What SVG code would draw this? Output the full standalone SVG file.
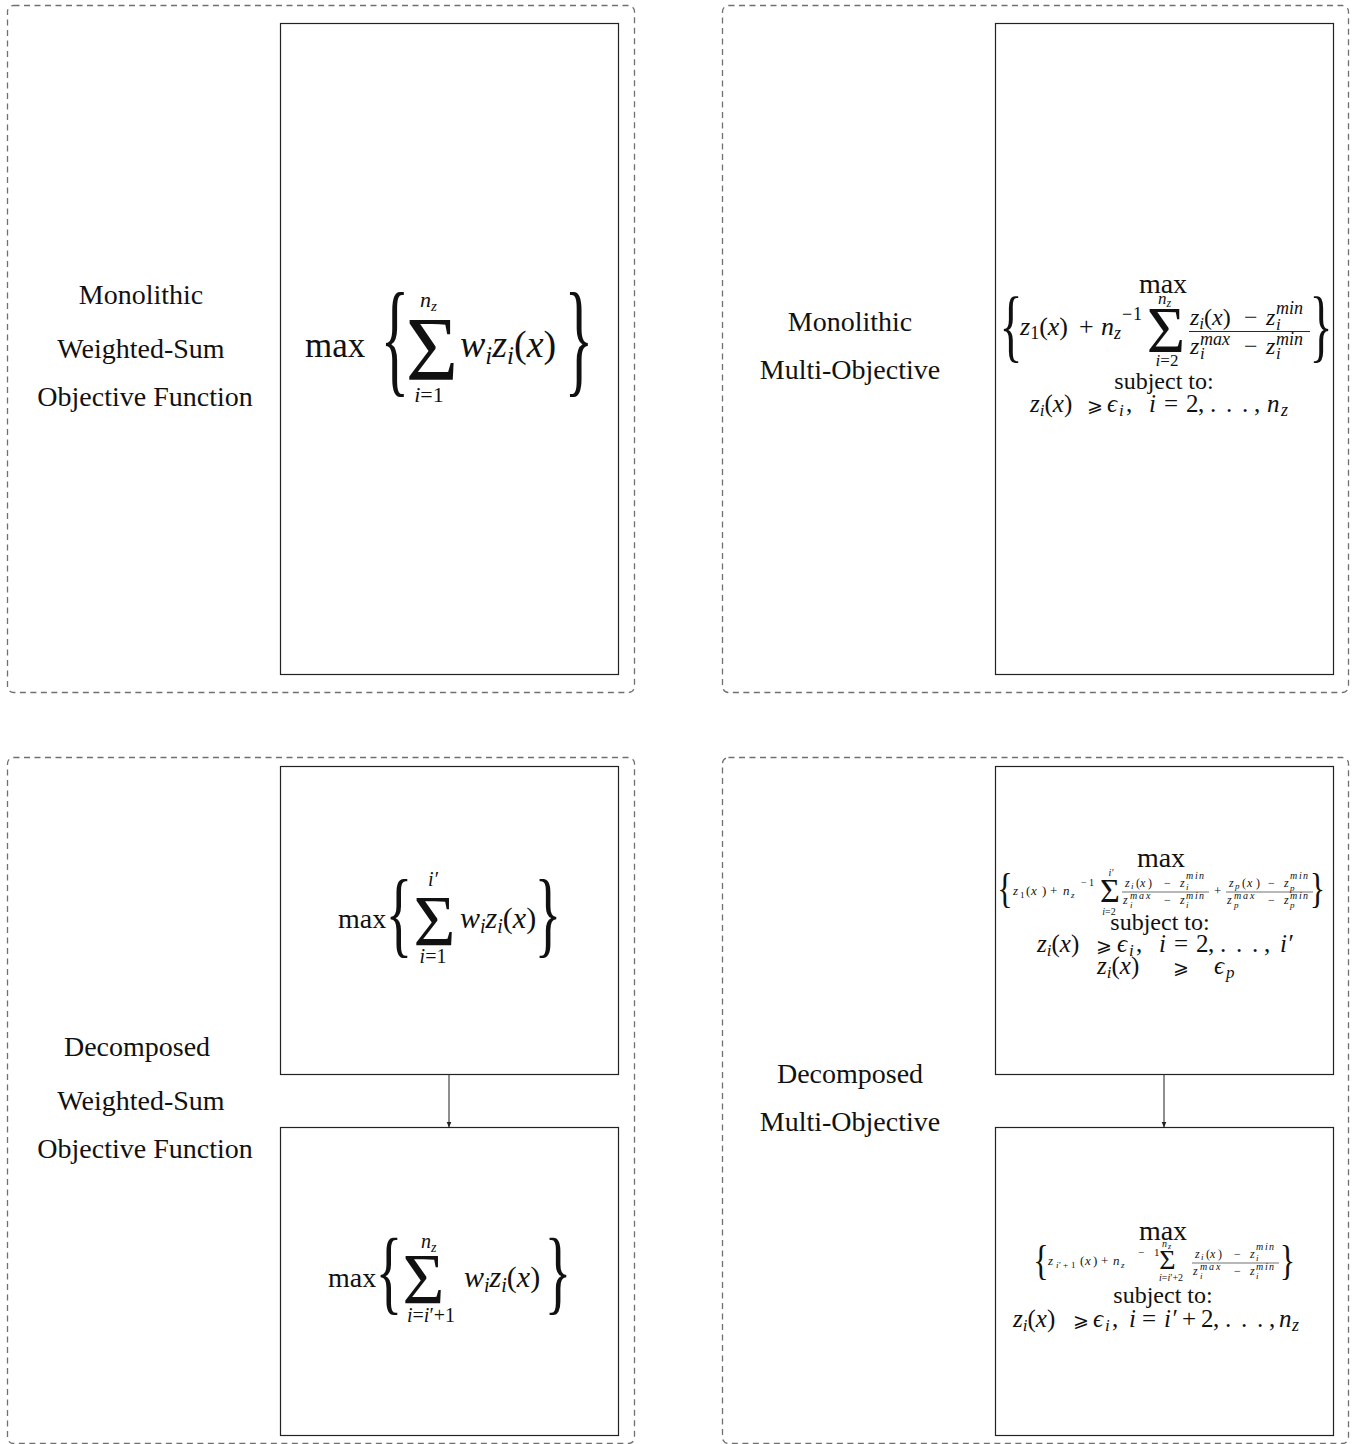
<svg xmlns="http://www.w3.org/2000/svg" width="1354" height="1444" viewBox="0 0 1354 1444">
<defs>
<style>
.outer{fill:none;stroke:#707070;stroke-width:1.3;stroke-dasharray:6,4.5}
.box{fill:#fff;stroke:#222;stroke-width:1.2}
text{font-family:"Liberation Serif","DejaVu Serif",serif;fill:#111}
.lbl{font-size:28px;text-anchor:middle}
.i{font-style:italic}
.c{text-anchor:middle}
.br{font-size:40px;text-anchor:middle}
.s{font-family:"DejaVu Sans",sans-serif}
.bar{stroke:#111;stroke-width:0.9}
.bar2{stroke:#111;stroke-width:0.6}
.edge{stroke:#333;stroke-width:1.1;fill:none}
</style>
<marker id="ah" markerWidth="6" markerHeight="6" refX="5.5" refY="3" orient="auto" markerUnits="userSpaceOnUse">
<path d="M0,0.5 L6,3 L0,5.5 z" fill="#222"/>
</marker>
</defs>
<rect width="1354" height="1444" fill="#fff"/>

<!-- Panel 1: Monolithic Weighted-Sum -->
<g id="panel-mono-ws">
<rect class="outer" x="7.5" y="5.5" width="627" height="687" rx="6"/>
<text class="lbl" x="141" y="304">Monolithic</text>
<text class="lbl" x="141" y="358">Weighted-Sum</text>
<text class="lbl" x="145" y="406">Objective Function</text>
</g>
<g id="node-mono-ws">
<rect class="box" x="280.5" y="23.5" width="338" height="651"/>
<text x="305" y="357" font-size="35">max</text>
<g transform="translate(395,348) scale(1.5,3.19)"><text class="br" x="0" y="10">{</text></g>
<text class="c" x="432" y="380" font-size="90">Σ</text>
<text x="420" y="307" font-size="22" class="i">n<tspan font-size="15" dy="4">z</tspan></text>
<text class="c" x="429" y="402" font-size="22"><tspan class="i">i</tspan>=1</text>
<text x="460" y="357" font-size="38"><tspan class="i">w</tspan><tspan class="i" font-size="25" dy="7">i</tspan><tspan class="i" dy="-7">z</tspan><tspan class="i" font-size="25" dy="7">i</tspan><tspan dy="-7">(</tspan><tspan class="i">x</tspan>)</text>
<g transform="translate(579,348) scale(1.5,3.19)"><text class="br" x="0" y="10">}</text></g>
</g>

<!-- Panel 2: Monolithic Multi-Objective -->
<g id="panel-mono-mo">
<rect class="outer" x="722.5" y="5.5" width="626" height="687" rx="6"/>
<text class="lbl" x="850" y="331">Monolithic</text>
<text class="lbl" x="850" y="379">Multi-Objective</text>
</g>
<g id="node-mono-mo">
<rect class="box" x="995.5" y="23.5" width="338" height="651"/>
<text class="c" x="1163" y="293" font-size="28">max</text>
<g transform="translate(1011,332) scale(1.2,2.0)"><text class="br" x="0" y="10">{</text></g>
<text x="1020" y="335" font-size="26"><tspan class="i">z</tspan><tspan font-size="18" dy="4">1</tspan><tspan dy="-4">(</tspan><tspan class="i">x</tspan>)</text>
<text x="1079" y="335" font-size="26">+</text>
<text x="1101" y="335" font-size="26" class="i">n<tspan font-size="18" dy="4">z</tspan></text>
<text x="1122 1133" y="320" font-size="18">−1</text>
<text class="c" x="1166" y="352" font-size="66">Σ</text>
<text x="1158" y="304" font-size="17" class="i">n<tspan font-size="12" dy="3">z</tspan></text>
<text class="c" x="1167" y="366" font-size="17"><tspan class="i">i</tspan>=2</text>
<text x="1190" y="325" font-size="24"><tspan class="i">z</tspan><tspan class="i" font-size="17" dy="4">i</tspan><tspan dy="-4">(</tspan><tspan class="i">x</tspan>)</text>
<text x="1244" y="325" font-size="24">−</text>
<text x="1266" y="325" font-size="24" class="i">z</text>
<text x="1276" y="314" font-size="18" class="i">min</text>
<text x="1276" y="330" font-size="17" class="i">i</text>
<line class="bar" x1="1189" y1="331.5" x2="1310" y2="331.5"/>
<text x="1190" y="354" font-size="24" class="i">z</text>
<text x="1200" y="345" font-size="18" class="i">max</text>
<text x="1200" y="359" font-size="17" class="i">i</text>
<text x="1244" y="354" font-size="24">−</text>
<text x="1266" y="354" font-size="24" class="i">z</text>
<text x="1276" y="345" font-size="18" class="i">min</text>
<text x="1276" y="359" font-size="17" class="i">i</text>
<g transform="translate(1321,332) scale(1.2,2.0)"><text class="br" x="0" y="10">}</text></g>
<text class="c" x="1164" y="389" font-size="24">subject to:</text>
<text x="1030" y="412" font-size="25"><tspan class="i">z</tspan><tspan class="i" font-size="17" dy="4">i</tspan><tspan dy="-4">(</tspan><tspan class="i">x</tspan>)</text>
<text x="1087" y="412" font-size="19" class="s">⩾</text>
<text x="1107" y="412" font-size="25" class="i">ϵ</text>
<text x="1119" y="416" font-size="17" class="i">i</text>
<text x="1126" y="412" font-size="25">,</text>
<text x="1149" y="412" font-size="25" class="i">i</text>
<text x="1164" y="412" font-size="25">=</text>
<text x="1186 1198 1210 1226 1242 1254" y="412" font-size="25">2,...,</text>
<text x="1267" y="412" font-size="25" class="i">n</text>
<text x="1281" y="416" font-size="18" class="i">z</text>
</g>

<!-- Panel 3: Decomposed Weighted-Sum -->
<g id="panel-dec-ws">
<rect class="outer" x="7.5" y="757.5" width="627" height="686" rx="6"/>
<text class="lbl" x="137" y="1056">Decomposed</text>
<text class="lbl" x="141" y="1110">Weighted-Sum</text>
<text class="lbl" x="145" y="1158">Objective Function</text>
</g>
<g id="node-dec-ws-1">
<rect class="box" x="280.5" y="766.5" width="338" height="308"/>
<text x="338" y="928" font-size="28">max</text>
<g transform="translate(399,921) scale(1.4,2.38)"><text class="br" x="0" y="10">{</text></g>
<text class="c" x="434.5" y="945" font-size="72">Σ</text>
<text class="c i" x="433" y="886" font-size="20">i′</text>
<text class="c" x="433" y="963" font-size="20"><tspan class="i">i</tspan>=1</text>
<text x="460" y="928" font-size="30"><tspan class="i">w</tspan><tspan class="i" font-size="20" dy="5">i</tspan><tspan class="i" dy="-5">z</tspan><tspan class="i" font-size="20" dy="5">i</tspan><tspan dy="-5">(</tspan><tspan class="i">x</tspan>)</text>
<g transform="translate(548,921) scale(1.4,2.38)"><text class="br" x="0" y="10">}</text></g>
</g>
<g id="node-dec-ws-2">
<rect class="box" x="280.5" y="1127.5" width="338" height="308"/>
<text x="328" y="1287" font-size="28">max</text>
<g transform="translate(389,1280) scale(1.4,2.32)"><text class="br" x="0" y="10">{</text></g>
<text class="c" x="423.5" y="1303" font-size="72">Σ</text>
<text x="421" y="1248" font-size="20" class="i">n<tspan font-size="14" dy="4">z</tspan></text>
<text class="c" x="431" y="1322" font-size="20"><tspan class="i">i</tspan>=<tspan class="i">i</tspan>′+1</text>
<text x="464" y="1287" font-size="30"><tspan class="i">w</tspan><tspan class="i" font-size="20" dy="5">i</tspan><tspan class="i" dy="-5">z</tspan><tspan class="i" font-size="20" dy="5">i</tspan><tspan dy="-5">(</tspan><tspan class="i">x</tspan>)</text>
<g transform="translate(558,1280) scale(1.4,2.32)"><text class="br" x="0" y="10">}</text></g>
</g>

<!-- Panel 4: Decomposed Multi-Objective -->
<g id="panel-dec-mo">
<rect class="outer" x="722.5" y="757.5" width="626" height="686" rx="6"/>
<text class="lbl" x="850" y="1083">Decomposed</text>
<text class="lbl" x="850" y="1131">Multi-Objective</text>
</g>
<g id="node-dec-mo-1">
<rect class="box" x="995.5" y="766.5" width="338" height="308"/>
<text class="c" x="1161" y="867" font-size="28">max</text>
<g transform="translate(1005,891.5) scale(0.8,1.07)"><text class="br" x="0" y="10">{</text></g>
<text x="1013" y="895" font-size="13" class="i">z</text>
<text x="1020" y="898" font-size="9">1</text>
<text x="1026" y="895" font-size="13">(</text>
<text x="1031" y="895" font-size="13" class="i">x</text>
<text x="1042" y="895" font-size="13">)</text>
<text x="1050" y="895" font-size="13">+</text>
<text x="1063" y="895" font-size="13" class="i">n</text>
<text x="1071" y="898" font-size="9" class="i">z</text>
<text x="1081 1089" y="886" font-size="10">−1</text>
<text class="c" x="1110" y="902" font-size="34">Σ</text>
<text class="c i" x="1111" y="876" font-size="10">i′</text>
<text class="c" x="1109" y="915" font-size="10"><tspan class="i">i</tspan>=2</text>
<!-- fraction 1, L=1123 -->
<text x="1125" y="887" font-size="12" class="i">z</text>
<text x="1131" y="889" font-size="9" class="i">i</text>
<text x="1136" y="887" font-size="12">(</text>
<text x="1140" y="887" font-size="12" class="i">x</text>
<text x="1148" y="887" font-size="12">)</text>
<text x="1164" y="887" font-size="12">−</text>
<text x="1180" y="887" font-size="12" class="i">z</text>
<text x="1186 1195 1199" y="879" font-size="10" class="i">min</text>
<text x="1186" y="890" font-size="9" class="i">i</text>
<line class="bar2" x1="1122" y1="892" x2="1209" y2="892"/>
<text x="1123" y="904" font-size="12" class="i">z</text>
<text x="1130 1139 1146" y="899" font-size="10" class="i">max</text>
<text x="1130" y="908" font-size="9" class="i">i</text>
<text x="1164" y="904" font-size="12">−</text>
<text x="1180" y="904" font-size="12" class="i">z</text>
<text x="1186 1195 1199" y="899" font-size="10" class="i">min</text>
<text x="1186" y="908" font-size="9" class="i">i</text>
<text x="1214" y="895" font-size="13">+</text>
<!-- fraction 2, L=1227 -->
<text x="1229" y="887" font-size="12" class="i">z</text>
<text x="1235" y="889" font-size="9" class="i">p</text>
<text x="1242" y="887" font-size="12">(</text>
<text x="1247" y="887" font-size="12" class="i">x</text>
<text x="1256" y="887" font-size="12">)</text>
<text x="1268" y="887" font-size="12">−</text>
<text x="1284" y="887" font-size="12" class="i">z</text>
<text x="1290 1299 1303" y="879" font-size="10" class="i">min</text>
<text x="1290" y="891" font-size="9" class="i">p</text>
<line class="bar2" x1="1226" y1="892" x2="1313" y2="892"/>
<text x="1227" y="904" font-size="12" class="i">z</text>
<text x="1234 1243 1250" y="899" font-size="10" class="i">max</text>
<text x="1234" y="908" font-size="9" class="i">p</text>
<text x="1268" y="904" font-size="12">−</text>
<text x="1284" y="904" font-size="12" class="i">z</text>
<text x="1290 1299 1303" y="899" font-size="10" class="i">min</text>
<text x="1290" y="908" font-size="9" class="i">p</text>
<g transform="translate(1317.5,891.5) scale(0.8,1.07)"><text class="br" x="0" y="10">}</text></g>
<text class="c" x="1160" y="930" font-size="24">subject to:</text>
<text x="1037" y="952" font-size="25"><tspan class="i">z</tspan><tspan class="i" font-size="17" dy="4">i</tspan><tspan dy="-4">(</tspan><tspan class="i">x</tspan>)</text>
<text x="1096" y="952" font-size="19" class="s">⩾</text>
<text x="1117" y="952" font-size="25" class="i">ϵ</text>
<text x="1129" y="956" font-size="17" class="i">i</text>
<text x="1136" y="952" font-size="25">,</text>
<text x="1159" y="952" font-size="25" class="i">i</text>
<text x="1174" y="952" font-size="25">=</text>
<text x="1196 1208 1220 1236 1252 1264" y="952" font-size="25">2,...,</text>
<text x="1280" y="952" font-size="25" class="i">i′</text>
<text x="1097" y="974" font-size="25"><tspan class="i">z</tspan><tspan class="i" font-size="17" dy="4">i</tspan><tspan dy="-4">(</tspan><tspan class="i">x</tspan>)</text>
<text x="1173" y="974" font-size="19" class="s">⩾</text>
<text x="1214" y="974" font-size="25" class="i">ϵ</text>
<text x="1226" y="978" font-size="17" class="i">p</text>
</g>
<g id="node-dec-mo-2">
<rect class="box" x="995.5" y="1127.5" width="338" height="308"/>
<text class="c" x="1163" y="1240" font-size="28">max</text>
<g transform="translate(1041,1263.5) scale(0.8,1.07)"><text class="br" x="0" y="10">{</text></g>
<text x="1048" y="1265" font-size="13" class="i">z</text>
<text x="1056" y="1268" font-size="9" class="i">i</text>
<text x="1059 1063 1071" y="1268" font-size="9">′+1</text>
<text x="1080" y="1265" font-size="13">(</text>
<text x="1085" y="1265" font-size="13" class="i">x</text>
<text x="1093" y="1265" font-size="13">)</text>
<text x="1101" y="1265" font-size="13">+</text>
<text x="1113" y="1265" font-size="13" class="i">n</text>
<text x="1121" y="1268" font-size="9" class="i">z</text>
<text x="1138 1154" y="1256" font-size="11">−1</text>
<text class="c" x="1167.5" y="1269" font-size="28">Σ</text>
<text x="1162" y="1247" font-size="10" class="i">n</text>
<text x="1168" y="1249" font-size="8" class="i">z</text>
<text class="c" x="1171" y="1281" font-size="10"><tspan class="i">i</tspan>=<tspan class="i">i</tspan>′+2</text>
<!-- fraction, L=1193 -->
<text x="1195" y="1258" font-size="12" class="i">z</text>
<text x="1201" y="1260" font-size="9" class="i">i</text>
<text x="1206" y="1258" font-size="12">(</text>
<text x="1210" y="1258" font-size="12" class="i">x</text>
<text x="1218" y="1258" font-size="12">)</text>
<text x="1234" y="1258" font-size="12">−</text>
<text x="1250" y="1258" font-size="12" class="i">z</text>
<text x="1256 1265 1269" y="1250" font-size="10" class="i">min</text>
<text x="1256" y="1261" font-size="9" class="i">i</text>
<line class="bar2" x1="1192" y1="1263" x2="1279" y2="1263"/>
<text x="1193" y="1275" font-size="12" class="i">z</text>
<text x="1200 1209 1216" y="1270" font-size="10" class="i">max</text>
<text x="1200" y="1279" font-size="9" class="i">i</text>
<text x="1234" y="1275" font-size="12">−</text>
<text x="1250" y="1275" font-size="12" class="i">z</text>
<text x="1256 1265 1269" y="1270" font-size="10" class="i">min</text>
<text x="1256" y="1279" font-size="9" class="i">i</text>
<g transform="translate(1287.5,1263.5) scale(0.8,1.07)"><text class="br" x="0" y="10">}</text></g>
<text class="c" x="1163" y="1303" font-size="24">subject to:</text>
<text x="1013" y="1327" font-size="25"><tspan class="i">z</tspan><tspan class="i" font-size="17" dy="4">i</tspan><tspan dy="-4">(</tspan><tspan class="i">x</tspan>)</text>
<text x="1073" y="1327" font-size="19" class="s">⩾</text>
<text x="1093" y="1327" font-size="25" class="i">ϵ</text>
<text x="1105" y="1331" font-size="17" class="i">i</text>
<text x="1112" y="1327" font-size="25">,</text>
<text x="1129" y="1327" font-size="25" class="i">i</text>
<text x="1142" y="1327" font-size="25">=</text>
<text x="1164" y="1327" font-size="25" class="i">i′</text>
<text x="1182" y="1327" font-size="25">+</text>
<text x="1201 1213 1225 1241 1257 1269" y="1327" font-size="25">2,...,</text>
<text x="1279" y="1327" font-size="25" class="i">n</text>
<text x="1292" y="1331" font-size="18" class="i">z</text>
</g>

<g id="connectors">
<line class="edge" x1="449" y1="1074.5" x2="449" y2="1127" marker-end="url(#ah)"/>
<line class="edge" x1="1164" y1="1074.5" x2="1164" y2="1127" marker-end="url(#ah)"/>
</g>
</svg>
